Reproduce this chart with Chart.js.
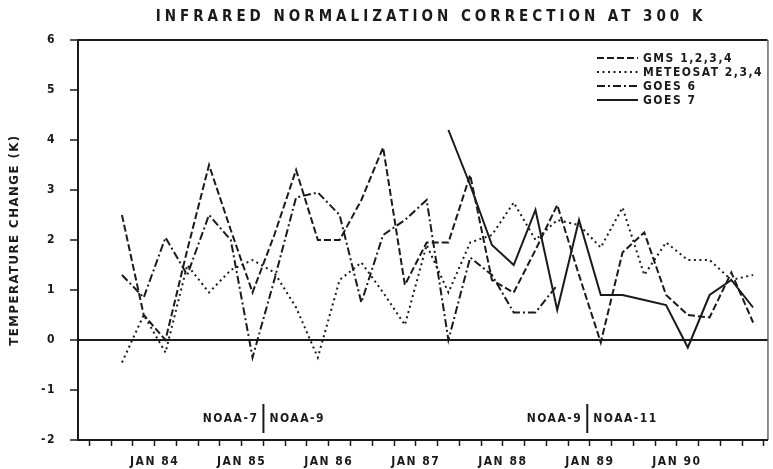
<!DOCTYPE html>
<html>
<head>
<meta charset="utf-8">
<script src="https://cdn.jsdelivr.net/npm/chart.js@4.4.0/dist/chart.umd.min.js"></script>
<style>
  html, body { margin: 0; padding: 0; background: #fff; }
  #wrap { width: 773px; height: 469px; }
</style>
</head>
<body>
<div id="wrap"><canvas id="chart" width="773" height="469"></canvas></div>
<script>
// Quarterly sample months (mid-month)
const sampleMonths = [
  '1983-08', '1983-11', '1984-02', '1984-05', '1984-08', '1984-11',
  '1985-02', '1985-05', '1985-08', '1985-11', '1986-02', '1986-05',
  '1986-08', '1986-11', '1987-02', '1987-05', '1987-08', '1987-11',
  '1988-02', '1988-05', '1988-08', '1988-11', '1989-02', '1989-05',
  '1989-08', '1989-11', '1990-02', '1990-05', '1990-08', '1990-11'
];

// Correction (K) per satellite, one value per sample month (null = no data)
const gms = [2.5, 0.5, 0.0, 1.8, 3.5, 2.2, 0.95, 2.1, 3.4, 2.0, 2.0, 2.8, 3.85, 1.1, 1.95,
             1.95, 3.3, 1.2, 0.95, 1.8, 2.7, 1.3, -0.05, 1.75, 2.15, 0.9, 0.5, 0.45, 1.35, 0.35];
const meteosat = [-0.45, 0.5, -0.25, 1.5, 0.95, 1.4, 1.6, 1.35, 0.65, -0.35, 1.2, 1.55, 0.95, 0.3, 1.9,
                  0.95, 1.95, 2.1, 2.75, 2.0, 2.4, 2.3, 1.85, 2.65, 1.3, 1.95, 1.6, 1.6, 1.2, 1.3];
const goes6 = [1.3, 0.85, 2.05, 1.3, 2.5, 2.0, -0.35, 1.2, 2.85, 2.95, 2.5, 0.75, 2.1, 2.4, 2.8,
               0.0, 1.65, 1.3, 0.55, 0.55, 1.1, null, null, null, null, null, null, null, null, null];
const goes7 = [null, null, null, null, null, null, null, null, null, null, null, null, null, null, null,
               4.2, 3.1, 1.9, 1.5, 2.6, 0.6, 2.4, 0.9, 0.9, 0.8, 0.7, -0.15, 0.9, 1.2, 0.65];

const seriesNames = ['GMS 1,2,3,4', 'METEOSAT 2,3,4', 'GOES 6', 'GOES 7'];

// Axis labelling
const yearTickValues = [1984, 1985, 1986, 1987, 1988, 1989, 1990];
const yearTickText = ['JAN 84', 'JAN 85', 'JAN 86', 'JAN 87', 'JAN 88', 'JAN 89', 'JAN 90'];
const yTickValues = [-2, -1, 0, 1, 2, 3, 4, 5, 6];

// NOAA reference satellite changeovers
const noaaSwitchDates = [1985.25, 1988.97];
const noaaBefore = ['NOAA-7', 'NOAA-9'];
const noaaAfter = ['NOAA-9', 'NOAA-11'];

const titleText = 'INFRARED NORMALIZATION CORRECTION AT 300 K';
const letterFont = '"DejaVu Sans Condensed", "DejaVu Sans", sans-serif';
const ink = '#1a1a1a';

function toYear(m) {
  const [y, mo] = m.split('-').map(Number);
  return y + (mo - 0.5) / 12;
}
const sampleYears = sampleMonths.map(toYear);
function toPoints(values) {
  const out = [];
  values.forEach((v, i) => { if (v !== null) out.push({ x: sampleYears[i], y: v }); });
  return out;
}

const quarterTicks = [];
for (let q = 1983 * 4 + 1; q <= 1991 * 4; q++) quarterTicks.push(q / 4);

const dashStyles = [[7, 3], [2, 3.5], [8, 3, 2, 3], []];

const lettering = {
  id: 'lettering',
  beforeDraw(chart) {
    chart.ctx.letterSpacing = '1.5px';
  },
  beforeDatasetsDraw(chart) {
    chart.ctx.letterSpacing = '0px';
  },
  afterDraw(chart) {
    const { ctx, chartArea, scales } = chart;
    ctx.save();
    ctx.fillStyle = ink;
    ctx.strokeStyle = ink;

    // right frame edge
    ctx.lineWidth = 1;
    ctx.beginPath();
    ctx.moveTo(chartArea.right + 0.5, chartArea.top);
    ctx.lineTo(chartArea.right + 0.5, chartArea.bottom);
    ctx.stroke();

    // title
    ctx.font = 'bold 15px ' + letterFont;
    ctx.letterSpacing = '4px';
    ctx.textBaseline = 'middle';
    ctx.textAlign = 'left';
    const tw = ctx.measureText(titleText).width;
    ctx.fillText(titleText, 431 - tw / 2, 17);

    // legend
    ctx.font = 'bold 12px ' + letterFont;
    ctx.letterSpacing = '1.5px';
    chart.data.datasets.forEach((ds, i) => {
      const y = 58 + 14 * i;
      ctx.setLineDash(ds.borderDash || []);
      ctx.lineWidth = 2;
      ctx.beginPath();
      ctx.moveTo(597, y);
      ctx.lineTo(638, y);
      ctx.stroke();
      ctx.setLineDash([]);
      ctx.fillText(ds.label, 643, y + 0.5);
    });

    // NOAA changeover markers
    const yTop = scales.y.getPixelForValue(-1.28);
    const yBot = scales.y.getPixelForValue(-1.86);
    const yTxt = scales.y.getPixelForValue(-1.57);
    ctx.font = 'bold 12px ' + letterFont;
    ctx.letterSpacing = '1.5px';
    noaaSwitchDates.forEach((d, i) => {
      const x = scales.x.getPixelForValue(d);
      ctx.lineWidth = 2;
      ctx.beginPath();
      ctx.moveTo(x, yTop);
      ctx.lineTo(x, yBot);
      ctx.stroke();
      ctx.textAlign = 'right';
      ctx.fillText(noaaBefore[i], x - 5, yTxt);
      ctx.textAlign = 'left';
      ctx.fillText(noaaAfter[i], x + 6, yTxt);
    });
    ctx.restore();
  }
};

new Chart(document.getElementById('chart'), {
  type: 'line',
  data: {
    datasets: [gms, meteosat, goes6, goes7].map((vals, i) => ({
      label: seriesNames[i],
      data: toPoints(vals),
      borderColor: ink,
      borderWidth: 2,
      borderDash: dashStyles[i],
      pointRadius: 0,
      tension: 0,
      fill: false
    }))
  },
  options: {
    responsive: false,
    animation: false,
    devicePixelRatio: 1,
    layout: { padding: { top: 40, right: 2, bottom: 0, left: 0 } },
    plugins: {
      legend: { display: false },
      title: { display: false },
      tooltip: { enabled: false }
    },
    scales: {
      x: {
        type: 'linear',
        min: 1983.12,
        max: 1991.04,
        afterBuildTicks: ax => { ax.ticks = quarterTicks.map(v => ({ value: v })); },
        afterFit: ax => { ax.height = 29; },
        ticks: {
          autoSkip: false,
          maxRotation: 0,
          minRotation: 0,
          padding: 9,
          color: ink,
          font: { family: letterFont, size: 12, weight: 'bold' },
          callback: v => {
            const i = yearTickValues.findIndex(y => Math.abs(y - v) < 1e-6);
            return i >= 0 ? yearTickText[i] : '';
          }
        },
        grid: { drawOnChartArea: false, drawTicks: true, tickLength: 6, tickColor: ink, tickWidth: 1.5 },
        border: { display: true, color: ink, width: 2 }
      },
      y: {
        min: -2,
        max: 6,
        afterBuildTicks: ax => { ax.ticks = yTickValues.map(v => ({ value: v })); },
        afterFit: ax => { ax.width = 78; },
        ticks: {
          padding: 14,
          color: ink,
          font: { family: letterFont, size: 12, weight: 'bold' }
        },
        grid: {
          color: c => (c.tick && (c.tick.value === 0 || c.tick.value === 6)) ? ink : 'rgba(0,0,0,0)',
          lineWidth: 2,
          drawTicks: true,
          tickLength: 8,
          tickColor: ink,
          tickWidth: 1.5
        },
        border: { display: true, color: ink, width: 2 },
        title: {
          display: true,
          text: 'TEMPERATURE CHANGE (K)',
          color: ink,
          font: { family: letterFont, size: 13, weight: 'bold' },
          padding: { top: 7, bottom: 0 }
        }
      }
    }
  },
  plugins: [lettering]
});
</script>
</body>
</html>
